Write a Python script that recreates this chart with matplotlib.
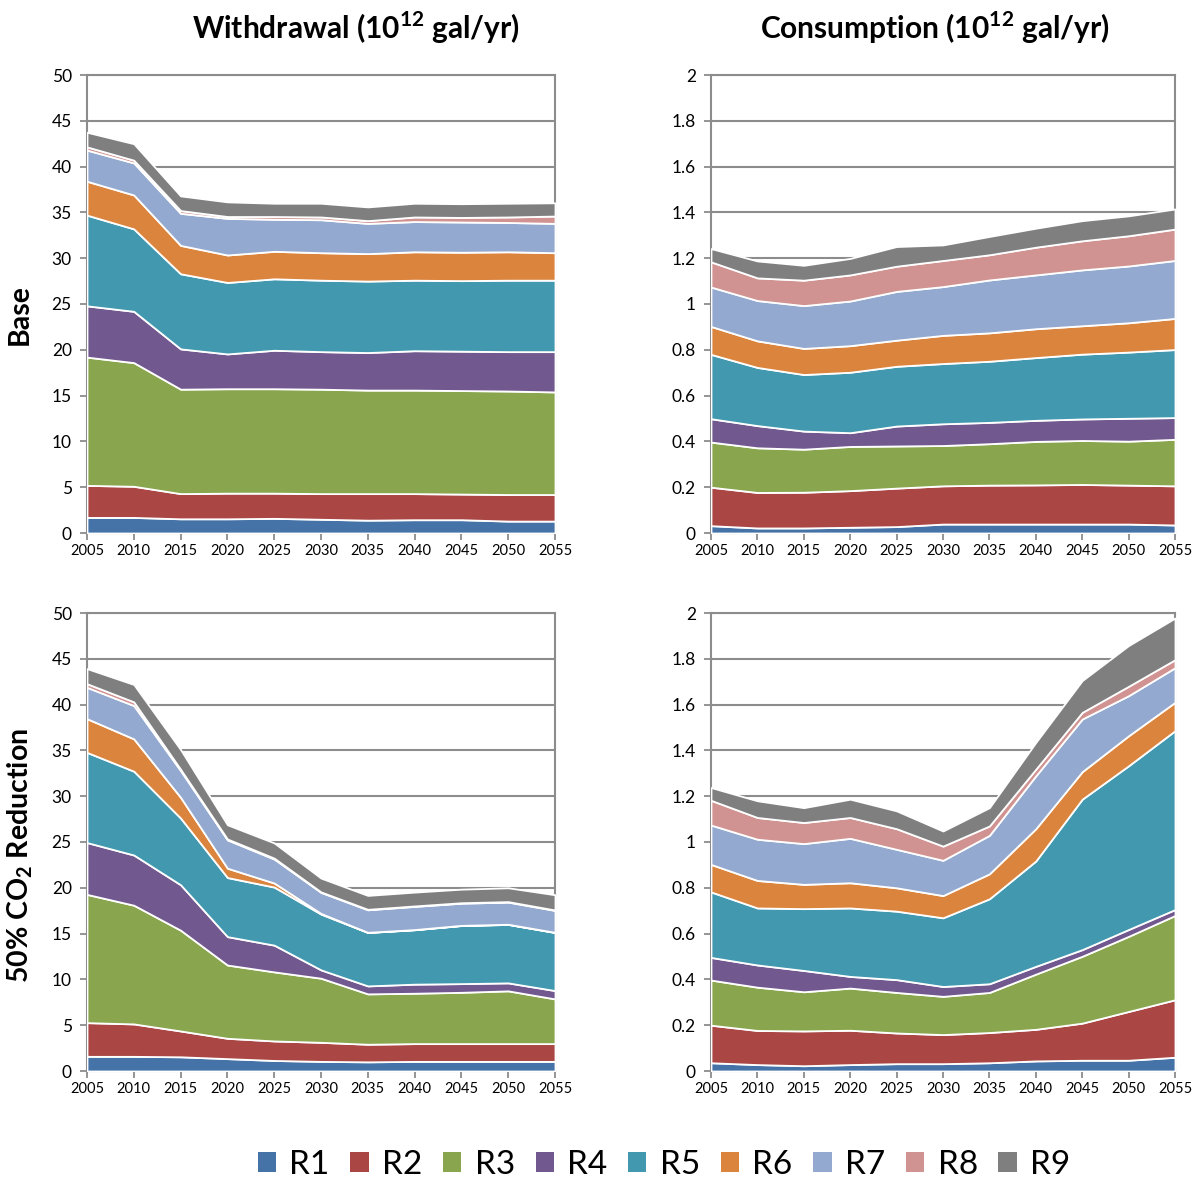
import matplotlib
matplotlib.use("Agg")
import matplotlib.pyplot as plt
from matplotlib.patches import Patch
from matplotlib.ticker import FuncFormatter
import numpy as np

plt.rcParams['font.family'] = ['Lato', 'DejaVu Sans']
plt.rcParams['mathtext.fontset'] = 'custom'
plt.rcParams['mathtext.rm'] = 'Lato'
plt.rcParams['mathtext.bf'] = 'Lato:bold'

years = [2005, 2010, 2015, 2020, 2025, 2030, 2035, 2040, 2045, 2050, 2055]
regions = ['R1', 'R2', 'R3', 'R4', 'R5', 'R6', 'R7', 'R8', 'R9']
colors = ['#4572A7', '#AA4643', '#89A54E', '#71588F', '#4198AF',
          '#DB843D', '#93A9CF', '#D19392', '#7F7F7F']

# Withdrawal, base case (10^12 gal/yr)
wd_base_r1 = [1.7, 1.7, 1.55, 1.55, 1.6, 1.5, 1.4, 1.45, 1.45, 1.3, 1.3]
wd_base_r2 = [3.5, 3.4, 2.75, 2.8, 2.75, 2.8, 2.9, 2.85, 2.8, 2.9, 2.9]
wd_base_r3 = [14.0, 13.5, 11.4, 11.4, 11.4, 11.4, 11.3, 11.3, 11.3, 11.3, 11.2]
wd_base_r4 = [5.6, 5.6, 4.4, 3.8, 4.2, 4.1, 4.1, 4.3, 4.3, 4.3, 4.4]
wd_base_r5 = [9.9, 9.0, 8.2, 7.8, 7.8, 7.8, 7.8, 7.7, 7.7, 7.8, 7.8]
wd_base_r6 = [3.7, 3.7, 3.1, 3.0, 3.0, 3.0, 3.0, 3.1, 3.1, 3.1, 3.0]
wd_base_r7 = [3.4, 3.5, 3.5, 4.0, 3.5, 3.6, 3.3, 3.3, 3.3, 3.2, 3.2]
wd_base_r8 = [0.35, 0.3, 0.3, 0.2, 0.3, 0.3, 0.3, 0.5, 0.5, 0.6, 0.8]
wd_base_r9 = [1.6, 1.8, 1.6, 1.6, 1.45, 1.5, 1.5, 1.5, 1.5, 1.5, 1.45]

# Consumption, base case
cs_base_r1 = [0.032, 0.022, 0.022, 0.025, 0.028, 0.039, 0.039, 0.039, 0.039, 0.039, 0.035]
cs_base_r2 = [0.168, 0.155, 0.156, 0.16, 0.168, 0.167, 0.17, 0.171, 0.173, 0.17, 0.171]
cs_base_r3 = [0.197, 0.195, 0.188, 0.193, 0.184, 0.176, 0.181, 0.19, 0.192, 0.192, 0.203]
cs_base_r4 = [0.102, 0.097, 0.079, 0.06, 0.087, 0.095, 0.093, 0.092, 0.094, 0.1, 0.095]
cs_base_r5 = [0.281, 0.254, 0.247, 0.264, 0.261, 0.263, 0.267, 0.274, 0.283, 0.289, 0.297]
cs_base_r6 = [0.122, 0.116, 0.114, 0.116, 0.114, 0.123, 0.124, 0.126, 0.124, 0.128, 0.136]
cs_base_r7 = [0.172, 0.176, 0.187, 0.195, 0.213, 0.213, 0.231, 0.235, 0.244, 0.248, 0.253]
cs_base_r8 = [0.11, 0.099, 0.111, 0.114, 0.11, 0.114, 0.11, 0.121, 0.127, 0.132, 0.137]
cs_base_r9 = [0.058, 0.074, 0.065, 0.072, 0.086, 0.068, 0.08, 0.083, 0.088, 0.087, 0.088]

# Withdrawal, 50% CO2 reduction
wd_co2_r1 = [1.6, 1.6, 1.55, 1.35, 1.15, 1.05, 1.0, 1.05, 1.05, 1.05, 1.05]
wd_co2_r2 = [3.68, 3.54, 2.82, 2.22, 2.13, 2.08, 1.92, 1.94, 1.94, 1.94, 1.94]
wd_co2_r3 = [14.0, 12.96, 11.0, 8.0, 7.54, 7.0, 5.5, 5.5, 5.6, 5.76, 4.88]
wd_co2_r4 = [5.66, 5.48, 4.96, 3.1, 2.92, 0.91, 0.87, 0.99, 0.95, 0.87, 0.91]
wd_co2_r5 = [9.84, 9.15, 7.28, 6.45, 6.34, 6.09, 5.83, 5.94, 6.34, 6.38, 6.34]
wd_co2_r6 = [3.68, 3.53, 2.26, 1.02, 0.44, 0.07, 0.02, 0.02, 0.02, 0.02, 0.02]
wd_co2_r7 = [3.42, 3.64, 2.92, 3.09, 2.62, 2.3, 2.46, 2.53, 2.42, 2.42, 2.39]
wd_co2_r8 = [0.4, 0.4, 0.15, 0.1, 0.1, 0.05, 0.05, 0.05, 0.05, 0.05, 0.05]
wd_co2_r9 = [1.65, 1.9, 2.15, 1.55, 1.66, 1.51, 1.52, 1.51, 1.48, 1.51, 1.66]

# Consumption, 50% CO2 reduction
cs_co2_r1 = [0.036, 0.028, 0.023, 0.028, 0.032, 0.032, 0.036, 0.044, 0.047, 0.047, 0.06]
cs_co2_r2 = [0.164, 0.149, 0.152, 0.15, 0.134, 0.127, 0.132, 0.138, 0.162, 0.213, 0.251]
cs_co2_r3 = [0.197, 0.189, 0.171, 0.184, 0.177, 0.167, 0.175, 0.241, 0.292, 0.328, 0.368]
cs_co2_r4 = [0.099, 0.097, 0.093, 0.051, 0.056, 0.043, 0.038, 0.034, 0.029, 0.03, 0.026]
cs_co2_r5 = [0.286, 0.249, 0.27, 0.299, 0.299, 0.3, 0.371, 0.46, 0.657, 0.715, 0.781]
cs_co2_r6 = [0.12, 0.12, 0.106, 0.11, 0.102, 0.097, 0.109, 0.141, 0.12, 0.131, 0.124]
cs_co2_r7 = [0.172, 0.18, 0.178, 0.194, 0.168, 0.154, 0.168, 0.231, 0.23, 0.175, 0.151]
cs_co2_r8 = [0.108, 0.095, 0.092, 0.091, 0.09, 0.062, 0.041, 0.029, 0.029, 0.041, 0.035]
cs_co2_r9 = [0.056, 0.073, 0.065, 0.08, 0.078, 0.066, 0.08, 0.117, 0.139, 0.178, 0.182]

panels = [
    ([wd_base_r1, wd_base_r2, wd_base_r3, wd_base_r4, wd_base_r5,
      wd_base_r6, wd_base_r7, wd_base_r8, wd_base_r9], 50, 5),
    ([cs_base_r1, cs_base_r2, cs_base_r3, cs_base_r4, cs_base_r5,
      cs_base_r6, cs_base_r7, cs_base_r8, cs_base_r9], 2, 0.2),
    ([wd_co2_r1, wd_co2_r2, wd_co2_r3, wd_co2_r4, wd_co2_r5,
      wd_co2_r6, wd_co2_r7, wd_co2_r8, wd_co2_r9], 50, 5),
    ([cs_co2_r1, cs_co2_r2, cs_co2_r3, cs_co2_r4, cs_co2_r5,
      cs_co2_r6, cs_co2_r7, cs_co2_r8, cs_co2_r9], 2, 0.2),
]

W, H = 1204, 1183
fig = plt.figure(figsize=(W / 100, H / 100), dpi=100)

# plot areas in pixels: left, top, right, bottom
boxes = [(87, 75, 555, 533), (711, 75, 1175, 533),
         (87, 613, 555, 1071), (711, 613, 1175, 1071)]

grey = '#8C8C8C'
for (series, ymax, step), (l, t, r, b) in zip(panels, boxes):
    ax = fig.add_axes([l / W, 1 - b / H, (r - l) / W, (b - t) / H])
    ax.stackplot(years, *series, colors=colors, edgecolor='white',
                 linewidth=1.3, zorder=3)
    ax.set_xlim(2005, 2055)
    ax.set_ylim(0, ymax)
    ax.set_xticks(years)
    ax.set_yticks(np.arange(0, ymax + step / 2, step))
    ax.yaxis.set_major_formatter(FuncFormatter(lambda v, p: f'{v:.1f}'.rstrip('0').rstrip('.')))
    ax.grid(axis='y', color=grey, linewidth=1.5, zorder=1)
    for s in ax.spines.values():
        s.set_color(grey)
        s.set_linewidth(1.5)
    ax.tick_params(axis='both', color=grey, width=1.3, length=5, direction='out')
    ax.tick_params(axis='y', labelsize=12.5, pad=6)
    ax.tick_params(axis='x', labelsize=10.5, pad=3)

fig.text(356 / W, 1 - 28 / H, r'Withdrawal (10$^{\mathbf{12}}$ gal/yr)',
         ha='center', va='center', fontsize=21.5, fontweight='bold')
fig.text(935 / W, 1 - 28 / H, r'Consumption (10$^{\mathbf{12}}$ gal/yr)',
         ha='center', va='center', fontsize=21.5, fontweight='bold')
fig.text(20 / W, 1 - 315 / H, 'Base', rotation=90, ha='center', va='center',
         fontsize=20.5, fontweight='bold')
fig.text(20 / W, 1 - 855 / H, r'50% CO$_{\mathbf{2}}$ Reduction', rotation=90,
         ha='center', va='center', fontsize=20.5, fontweight='bold')

handles = [Patch(facecolor=c, edgecolor='none') for c in colors]
fig.legend(handles, regions, loc='center', bbox_to_anchor=(664 / W, 1 - 1165 / H),
           ncol=9, frameon=False, fontsize=24, handlelength=0.55, handleheight=0.55,
           handletextpad=0.4, columnspacing=0.62)

fig.savefig('out.png', dpi=100)
